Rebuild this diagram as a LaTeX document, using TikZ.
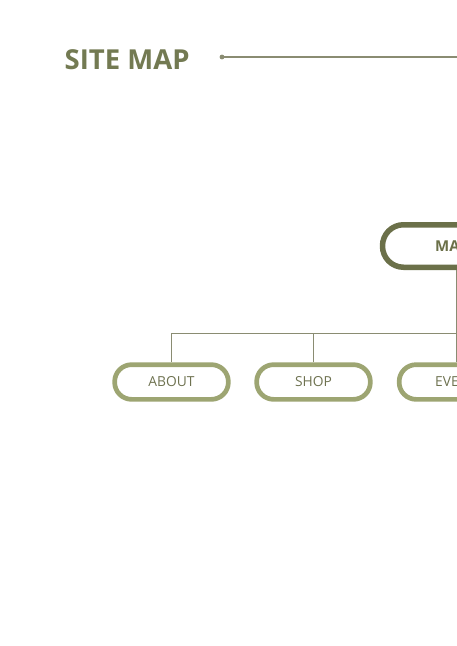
\documentclass[tikz,border=0pt]{standalone}
\usepackage{fontspec}
\setmainfont{Open Sans}
\definecolor{olivedark}{HTML}{6B7049}
\definecolor{olivetitle}{HTML}{737A52}
\definecolor{olivelight}{HTML}{9DA572}
\definecolor{olivetext}{HTML}{6E7250}
\definecolor{oliveline}{HTML}{8A8C72}
\begin{document}
\begin{tikzpicture}[x=1pt, y=-1pt,
	mainbox/.style={draw=olivedark, line width=5.5pt, rounded corners=21pt, minimum width=147pt, minimum height=42.5pt, inner sep=0pt, text=olivedark, font=\fontsize{15}{18}\selectfont\bfseries},
	subbox/.style={draw=olivelight, line width=4.7pt, rounded corners=17pt, minimum width=113.7pt, minimum height=34.7pt, inner sep=0pt, text=olivetext, font=\fontsize{13.8}{16}\selectfont},
	link/.style={draw=oliveline, line width=1pt}]
	\useasboundingbox (0,0) rectangle (457,646);
	\clip (0,0) rectangle (457,646);
	\node[anchor=base west, text=olivetitle, font=\fontsize{27.5}{32}\selectfont\bfseries, inner sep=0pt] (title) at (64.5,69.5) {SITE MAP};
	\fill[oliveline] (222,57) circle (2.4pt) coordinate (dot);
	\coordinate (lineend) at (480,57);
	\draw[link, line width=1.3pt] (dot) -- (lineend);
	\node[mainbox] (main) at (456,246) {MAIN};
	\node[subbox] (about) at (171.5,382) {ABOUT};
	\node[subbox] (shop) at (313.5,382) {SHOP};
	\node[subbox] (event) at (456,382) {EVENT};
	\coordinate (bus) at (480,333);
	\draw[link] (main.south) -- (event.north);
	\draw[link] (about.north) |- (bus);
	\draw[link] (shop.north) -- (shop.north |- bus);
\end{tikzpicture}
\end{document}
